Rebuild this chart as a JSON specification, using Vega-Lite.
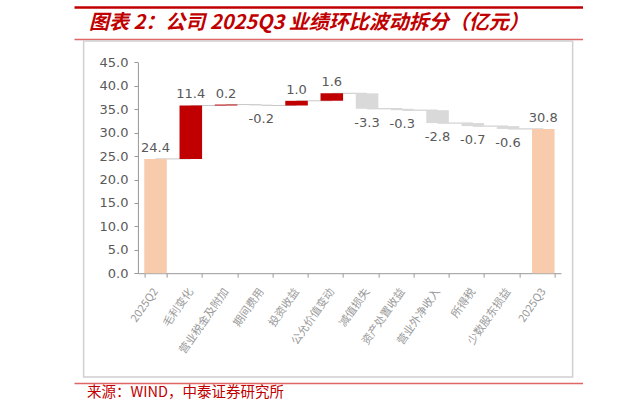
{
  "$schema": "https://vega.github.io/schema/vega-lite/v6.json",
  "padding": {"left": 74, "top": 7, "right": 0, "bottom": 0},
  "autosize": {"type": "pad"},
  "background": "white",
  "spacing": 1,
  "center": true,
  "config": {"view": {"stroke": null}, "font": "Noto Sans CJK SC"},
  "datasets": {
    "blank": [{"v": 0}],
    "bars": [
      {"cat": "2025Q2", "start": 0, "end": 24.4, "value": 24.4, "label": "24.4", "type": "total", "next": "毛利变化"},
      {"cat": "毛利变化", "start": 24.4, "end": 35.8, "value": 11.4, "label": "11.4", "type": "inc", "next": "营业税金及附加"},
      {"cat": "营业税金及附加", "start": 35.8, "end": 36.0, "value": 0.2, "label": "0.2", "type": "inc", "next": "期间费用"},
      {"cat": "期间费用", "start": 36.0, "end": 35.8, "value": -0.2, "label": "-0.2", "type": "dec", "next": "投资收益"},
      {"cat": "投资收益", "start": 35.8, "end": 36.8, "value": 1.0, "label": "1.0", "type": "inc", "next": "公允价值变动"},
      {"cat": "公允价值变动", "start": 36.8, "end": 38.4, "value": 1.6, "label": "1.6", "type": "inc", "next": "减值损失"},
      {"cat": "减值损失", "start": 38.4, "end": 35.1, "value": -3.3, "label": "-3.3", "type": "dec", "next": "资产处置收益"},
      {"cat": "资产处置收益", "start": 35.1, "end": 34.8, "value": -0.3, "label": "-0.3", "type": "dec", "next": "营业外净收入"},
      {"cat": "营业外净收入", "start": 34.8, "end": 32.05, "value": -2.8, "label": "-2.8", "type": "dec", "next": "所得税"},
      {"cat": "所得税", "start": 32.05, "end": 31.4, "value": -0.7, "label": "-0.7", "type": "dec", "next": "少数股东损益"},
      {"cat": "少数股东损益", "start": 31.4, "end": 30.8, "value": -0.6, "label": "-0.6", "type": "dec", "next": "2025Q3"},
      {"cat": "2025Q3", "start": 0, "end": 30.8, "value": 30.8, "label": "30.8", "type": "total", "next": null}
    ]
  },
  "vconcat": [
    {
      "data": {"name": "blank"},
      "width": 509,
      "height": 5,
      "mark": {"type": "rule", "opacity": 0},
      "encoding": {
        "x": {"field": "v", "type": "quantitative", "scale": {"domain": [0, 1]},
          "axis": {"orient": "top", "domainColor": "#c00000", "domainWidth": 2.5, "ticks": false, "labels": false, "title": null, "grid": false}}
      }
    },
    {
      "data": {"name": "blank"},
      "width": 509,
      "height": 1,
      "title": {"text": "图表 2：公司 2025Q3 业绩环比波动拆分（亿元）", "anchor": "start", "dx": 15, "fontSize": 20, "fontWeight": "bold", "fontStyle": "italic", "color": "#c00000", "offset": 5, "font": "Noto Sans CJK SC"},
      "mark": {"type": "rule", "opacity": 0},
      "encoding": {
        "x": {"field": "v", "type": "quantitative", "scale": {"domain": [0, 1]},
          "axis": {"orient": "bottom", "domainColor": "#e06666", "domainWidth": 1.5, "ticks": false, "labels": false, "title": null, "grid": false}}
      }
    },
    {
      "data": {"name": "bars"},
      "width": 489,
      "height": 336,
      "view": {"stroke": "#d0d0d0", "strokeWidth": 1.5},
      "encoding": {
        "x": {
          "field": "cat", "type": "nominal",
          "scale": {"type": "band", "domain": ["2025Q2", "毛利变化", "营业税金及附加", "期间费用", "投资收益", "公允价值变动", "减值损失", "资产处置收益", "营业外净收入", "所得税", "少数股东损益", "2025Q3"], "range": [54.3, 477.3], "paddingInner": 0.36, "paddingOuter": 0.18},
          "axis": {"orient": "bottom", "offset": -103.8, "title": null, "domainColor": "#999999", "tickColor": "#999999", "tickSize": 4, "tickBand": "extent", "labelAngle": -55, "labelFontSize": 11, "labelColor": "#9a9a9a", "labelFont": "Noto Sans CJK SC", "labelPadding": 12, "grid": false}
        },
        "y": {
          "field": "end", "type": "quantitative",
          "scale": {"domain": [0, 45], "range": [232.2, 21.4], "nice": false, "zero": true},
          "axis": {"orient": "left", "offset": -54.3, "values": [0, 5, 10, 15, 20, 25, 30, 35, 40, 45], "format": ".1f", "title": null, "domainColor": "#999999", "tickColor": "#999999", "tickSize": 4, "labelFont": "DejaVu Sans", "labelFontSize": 13, "labelColor": "#595959", "labelPadding": 6, "grid": false}
        }
      },
      "layer": [
        {
          "transform": [{"filter": "isValid(datum.next)"}],
          "mark": {"type": "rule", "color": "#c8c8c8", "strokeWidth": 1},
          "encoding": {"x2": {"field": "next"}}
        },
        {
          "mark": {"type": "bar"},
          "encoding": {
            "y2": {"field": "start"},
            "color": {"field": "type", "type": "nominal", "scale": {"domain": ["total", "inc", "dec"], "range": ["#f8cbad", "#c00000", "#d9d9d9"]}, "legend": null}
          }
        },
        {
          "transform": [{"filter": "datum.value >= 0"}],
          "mark": {"type": "text", "baseline": "middle", "dy": -11, "font": "DejaVu Sans", "fontSize": 13, "color": "#595959"},
          "encoding": {"text": {"field": "label"}}
        },
        {
          "transform": [{"filter": "datum.value < 0"}],
          "mark": {"type": "text", "baseline": "middle", "dy": 14, "font": "DejaVu Sans", "fontSize": 13, "color": "#595959"},
          "encoding": {"text": {"field": "label"}}
        }
      ]
    },
    {
      "data": {"name": "blank"},
      "width": 509,
      "height": 4,
      "title": {"text": "来源：WIND，中泰证券研究所", "orient": "bottom", "anchor": "start", "dx": 13, "fontSize": 14.5, "fontWeight": "normal", "color": "#c00000", "offset": 3, "font": "Noto Sans CJK SC"},
      "mark": {"type": "rule", "opacity": 0},
      "encoding": {
        "x": {"field": "v", "type": "quantitative", "scale": {"domain": [0, 1]},
          "axis": {"orient": "bottom", "domainColor": "#e06666", "domainWidth": 1.5, "ticks": false, "labels": false, "title": null, "grid": false}}
      }
    }
  ]
}
